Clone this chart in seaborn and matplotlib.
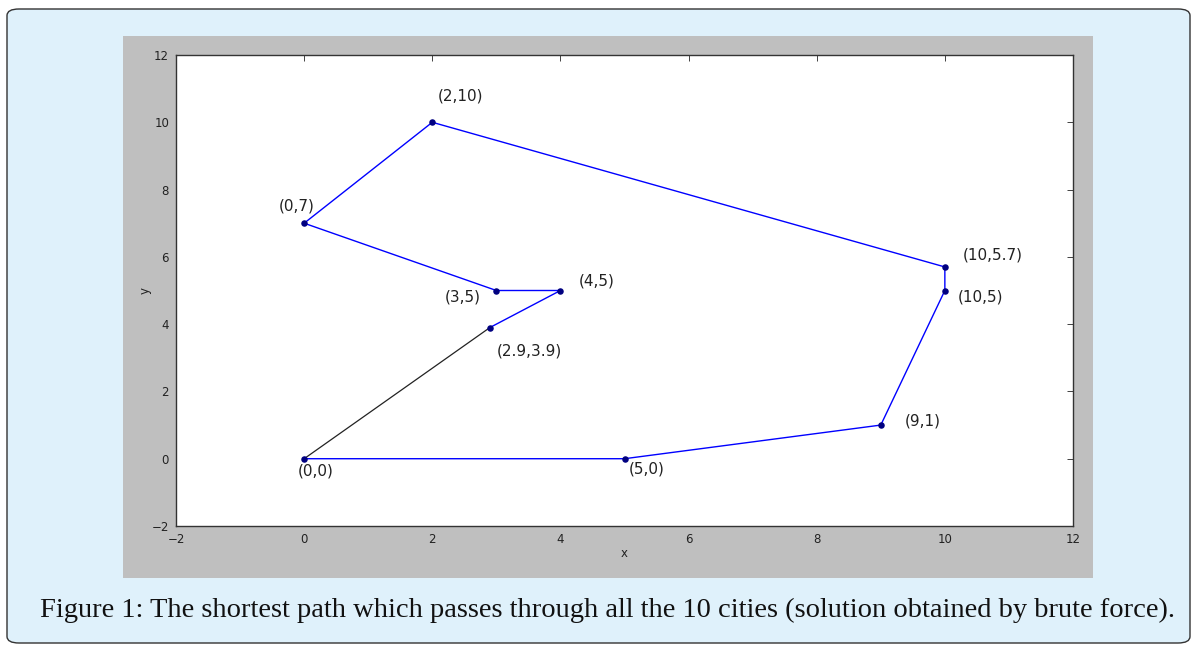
import matplotlib
matplotlib.use("Agg")
import matplotlib.pyplot as plt
from matplotlib.patches import FancyBboxPatch, Rectangle
import seaborn as sns
import pandas as pd

# Tour order (data)
tour_x = [0, 5, 9, 10, 10, 2, 0, 3, 4, 2.9]
tour_y = [0, 0, 1, 5, 5.7, 10, 7, 5, 5, 3.9]
labels = ["(0,0)", "(5,0)", "(9,1)", "(10,5)", "(10,5.7)", "(2,10)",
          "(0,7)", "(3,5)", "(4,5)", "(2.9,3.9)"]
# label offsets in pixels (style)
label_offsets = [(12, -12), (22, -10), (42, 4), (36, -6), (48, 12), (28, 26),
                 (-7, 17), (-34, -6), (36, 9), (39, -23)]
x_ticks = [-2, 0, 2, 4, 6, 8, 10, 12]
y_ticks = [-2, 0, 2, 4, 6, 8, 10, 12]
caption = ("Figure 1: The shortest path which passes through all the 10 cities "
           "(solution obtained by brute force).")

W, H = 1196, 650
sns.set_style("white")
plt.rcParams['font.family'] = ['DejaVu Sans']

fig = plt.figure(figsize=(W / 100, H / 100), dpi=100, facecolor="white")

# outer light-blue rounded box
fig.patches.append(FancyBboxPatch((7 / W, 1 - 643 / H), (1190 - 7) / W, (643 - 9) / H,
                                  boxstyle="round,pad=0,rounding_size=0.01",
                                  transform=fig.transFigure, facecolor="#dff1fb",
                                  edgecolor="#333333", linewidth=1.0, zorder=0))
# gray figure panel
fig.patches.append(Rectangle((123 / W, 1 - 578 / H), (1093 - 123) / W, (578 - 36) / H,
                             transform=fig.transFigure, facecolor="#bfbfbf",
                             edgecolor="none", zorder=1))

ax = fig.add_axes([176 / W, 1 - 526 / H, (1073 - 176) / W, (526 - 55) / H])
ax.set_facecolor("white")
ax.set_zorder(2)

df = pd.DataFrame({"x": tour_x, "y": tour_y})
sns.lineplot(data=df, x="x", y="y", sort=False, estimator=None,
             color="#0000ff", linewidth=1.0, ax=ax)
closing = df.iloc[[len(df) - 1, 0]]
sns.lineplot(data=closing, x="x", y="y", sort=False, estimator=None,
             color="#222222", linewidth=0.9, ax=ax)
sns.scatterplot(data=df, x="x", y="y", color="#000080", s=22, edgecolor="#000080",
                linewidth=0, zorder=5, ax=ax)

for xv, yv, lab, off in zip(tour_x, tour_y, labels, label_offsets):
    ax.annotate(lab, (xv, yv), xytext=off, textcoords="offset pixels",
                ha="center", va="center", fontsize=11, color="#222222")

ax.set_xlim(-2, 12)
ax.set_ylim(-2, 12)
ax.set_xticks(x_ticks)
ax.set_yticks(y_ticks)
ax.tick_params(direction="in", top=True, right=True, length=4, width=0.6,
               labelsize=8.5, colors="#222222", pad=5)
for s in ax.spines.values():
    s.set_color("#333333")
    s.set_linewidth(1.0)
ax.set_xlabel("x", fontsize=8.5, color="#222222", labelpad=0.5)
ax.set_ylabel("y", fontsize=8.5, color="#222222", labelpad=0)

fig.text(608 / W, 1 - 610 / H, caption, ha="center", va="center",
         fontsize=20.5, family=["Liberation Serif"], color="#111111")

fig.savefig("out.png", dpi=100, facecolor="white")
